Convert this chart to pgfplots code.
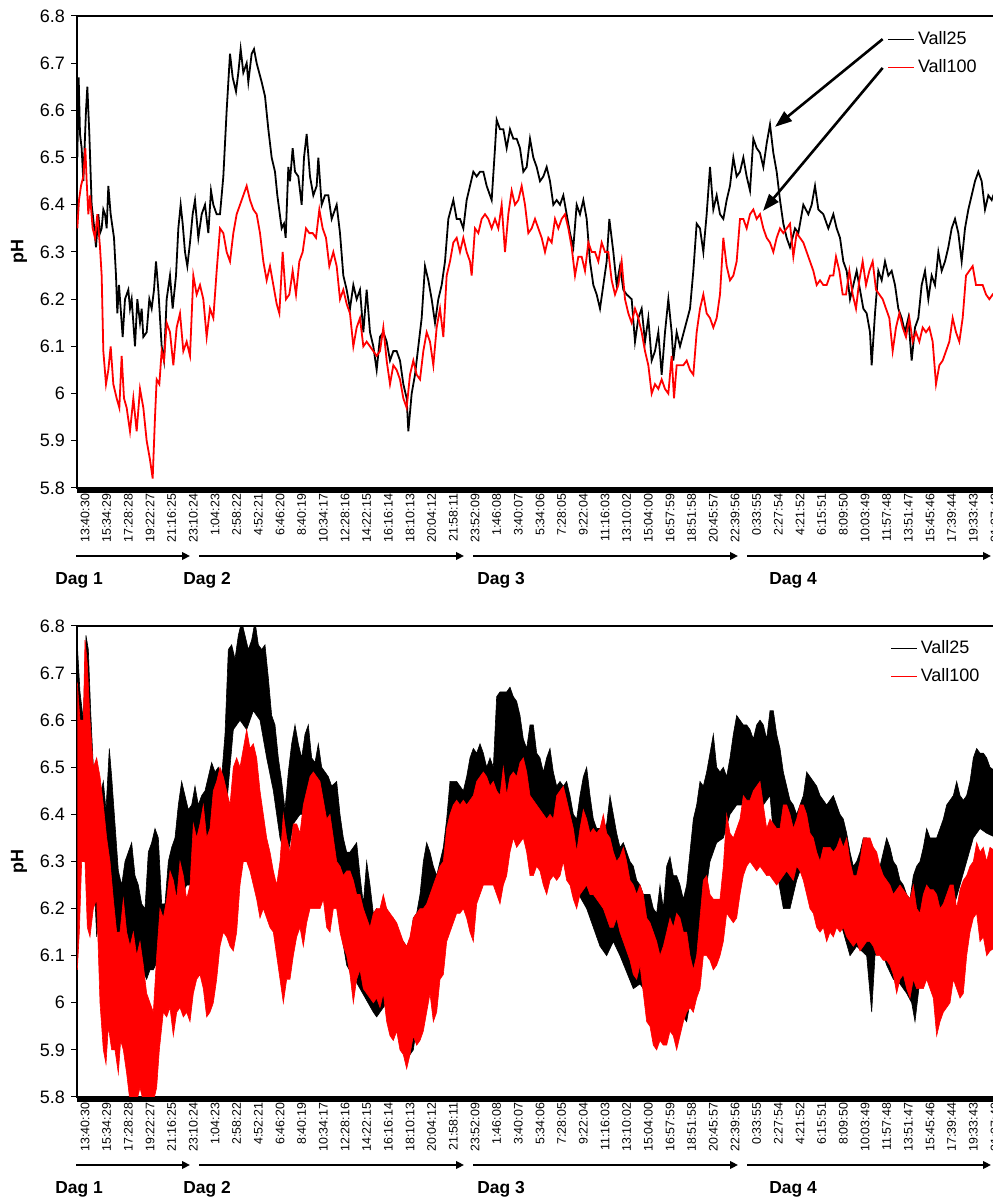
\documentclass[border=0pt]{standalone}
\usepackage{fontspec}
\setmainfont{Liberation Sans}
\usepackage{pgfplots}
\pgfplotsset{compat=1.18}
\usepackage{pgfplotstable}
\usetikzlibrary{arrows.meta}

% bottom chart: upper and lower envelopes of the fast-oscillating signals
\pgfplotstableread[row sep=\\]{G pH\\
232 6.76\\ 240 6.66\\ 250 6.60\\ 258 6.78\\ 265 6.75\\ 272 6.62\\ 280 6.50\\ 290 6.47\\ 300 6.44\\ 310 6.47\\
318 6.41\\ 328 6.54\\ 335 6.48\\ 345 6.38\\ 355 6.28\\ 365 6.25\\ 375 6.30\\ 385 6.32\\ 395 6.34\\ 405 6.27\\
415 6.25\\ 425 6.21\\ 435 6.20\\ 445 6.32\\ 455 6.34\\ 465 6.37\\ 475 6.35\\ 485 6.21\\ 495 6.21\\ 505 6.30\\
515 6.33\\ 525 6.35\\ 535 6.42\\ 545 6.47\\ 555 6.44\\ 565 6.41\\ 575 6.42\\ 585 6.46\\ 595 6.42\\ 605 6.44\\
615 6.45\\ 625 6.48\\ 635 6.51\\ 645 6.49\\ 655 6.50\\ 665 6.48\\ 675 6.57\\ 685 6.75\\ 695 6.76\\ 705 6.73\\
715 6.78\\ 725 6.81\\ 735 6.78\\ 745 6.75\\ 755 6.77\\ 765 6.81\\ 775 6.76\\ 785 6.75\\ 795 6.76\\ 805 6.69\\
815 6.61\\ 825 6.59\\ 835 6.52\\ 845 6.47\\ 855 6.41\\ 865 6.49\\ 875 6.55\\ 885 6.59\\ 895 6.55\\ 905 6.52\\
915 6.57\\ 925 6.59\\ 935 6.52\\ 945 6.51\\ 955 6.55\\ 965 6.50\\ 975 6.49\\ 985 6.48\\ 995 6.46\\ 1010 6.47\\
1020 6.40\\ 1030 6.35\\ 1040 6.32\\ 1050 6.32\\ 1060 6.33\\ 1070 6.34\\ 1080 6.27\\ 1090 6.21\\ 1100 6.30\\ 1110 6.25\\
1120 6.19\\ 1130 6.20\\ 1140 6.19\\ 1150 6.20\\ 1160 6.20\\ 1170 6.18\\ 1180 6.18\\ 1190 6.15\\ 1200 6.14\\ 1210 6.13\\
1220 6.12\\ 1230 6.13\\ 1240 6.18\\ 1250 6.19\\ 1260 6.23\\ 1270 6.30\\ 1280 6.34\\ 1290 6.32\\ 1300 6.29\\ 1310 6.27\\
1320 6.30\\ 1330 6.33\\ 1340 6.39\\ 1350 6.47\\ 1360 6.47\\ 1370 6.47\\ 1380 6.46\\ 1390 6.45\\ 1400 6.48\\ 1410 6.52\\
1420 6.54\\ 1430 6.53\\ 1440 6.55\\ 1450 6.53\\ 1460 6.50\\ 1470 6.52\\ 1480 6.50\\ 1490 6.65\\ 1500 6.66\\ 1510 6.66\\
1520 6.66\\ 1530 6.67\\ 1540 6.65\\ 1550 6.64\\ 1560 6.61\\ 1570 6.56\\ 1580 6.54\\ 1590 6.59\\ 1600 6.59\\ 1610 6.53\\
1620 6.52\\ 1630 6.49\\ 1640 6.52\\ 1650 6.54\\ 1660 6.49\\ 1670 6.46\\ 1680 6.47\\ 1690 6.46\\ 1700 6.47\\ 1710 6.44\\
1720 6.40\\ 1730 6.39\\ 1740 6.44\\ 1750 6.48\\ 1760 6.50\\ 1770 6.44\\ 1780 6.39\\ 1790 6.37\\ 1800 6.37\\ 1810 6.37\\
1820 6.38\\ 1830 6.44\\ 1840 6.40\\ 1850 6.36\\ 1860 6.33\\ 1870 6.34\\ 1880 6.32\\ 1890 6.30\\ 1900 6.29\\ 1910 6.26\\
1920 6.25\\ 1930 6.23\\ 1940 6.23\\ 1950 6.23\\ 1960 6.20\\ 1970 6.19\\ 1980 6.25\\ 1990 6.20\\ 2000 6.29\\ 2010 6.31\\
2020 6.27\\ 2030 6.27\\ 2040 6.25\\ 2050 6.22\\ 2060 6.25\\ 2070 6.32\\ 2080 6.39\\ 2090 6.42\\ 2100 6.47\\ 2110 6.46\\
2120 6.49\\ 2130 6.53\\ 2140 6.57\\ 2150 6.50\\ 2160 6.49\\ 2170 6.50\\ 2180 6.48\\ 2190 6.52\\ 2200 6.57\\ 2210 6.61\\
2220 6.60\\ 2230 6.59\\ 2240 6.59\\ 2250 6.58\\ 2260 6.56\\ 2270 6.59\\ 2280 6.60\\ 2290 6.59\\ 2300 6.56\\ 2310 6.62\\
2320 6.62\\ 2330 6.57\\ 2340 6.54\\ 2350 6.49\\ 2360 6.46\\ 2370 6.43\\ 2380 6.42\\ 2390 6.40\\ 2400 6.42\\ 2410 6.44\\
2420 6.49\\ 2430 6.48\\ 2440 6.47\\ 2450 6.46\\ 2460 6.44\\ 2470 6.43\\ 2480 6.42\\ 2490 6.43\\ 2500 6.44\\ 2510 6.42\\
2520 6.40\\ 2530 6.39\\ 2540 6.36\\ 2550 6.32\\ 2560 6.29\\ 2570 6.30\\ 2580 6.32\\ 2590 6.35\\ 2600 6.35\\ 2610 6.33\\
2620 6.32\\ 2630 6.30\\ 2640 6.29\\ 2650 6.32\\ 2660 6.35\\ 2670 6.33\\ 2680 6.30\\ 2690 6.29\\ 2700 6.26\\ 2710 6.25\\
2720 6.23\\ 2730 6.22\\ 2740 6.27\\ 2750 6.29\\ 2760 6.30\\ 2770 6.33\\ 2780 6.37\\ 2790 6.35\\ 2800 6.35\\ 2810 6.35\\
2820 6.37\\ 2830 6.39\\ 2840 6.42\\ 2850 6.43\\ 2860 6.44\\ 2870 6.47\\ 2880 6.44\\ 2890 6.43\\ 2900 6.44\\ 2910 6.47\\
2920 6.52\\ 2930 6.54\\ 2940 6.53\\ 2950 6.53\\ 2960 6.52\\ 2970 6.50\\ 2990 6.49\\
}\bhi
\pgfplotstableread[row sep=\\]{G pH\\
232 6.45\\ 245 6.50\\ 260 6.50\\ 270 6.40\\ 280 6.30\\ 290 6.14\\ 300 6.20\\ 320 6.25\\ 340 6.15\\ 360 6.10\\
380 6.08\\ 400 6.05\\ 420 6.08\\ 440 6.05\\ 450 6.07\\ 460 6.07\\ 480 6.10\\ 500 6.15\\ 520 6.18\\ 540 6.22\\
560 6.25\\ 580 6.25\\ 600 6.27\\ 620 6.28\\ 640 6.30\\ 660 6.32\\ 680 6.42\\ 700 6.58\\ 720 6.60\\ 740 6.58\\
760 6.62\\ 780 6.60\\ 800 6.52\\ 820 6.45\\ 840 6.35\\ 860 6.30\\ 880 6.38\\ 900 6.40\\ 920 6.40\\ 940 6.38\\
960 6.30\\ 1000 6.25\\ 1040 6.08\\ 1080 6.03\\ 1120 5.98\\ 1130 5.97\\ 1160 6.00\\ 1200 5.95\\ 1220 5.88\\ 1240 5.90\\
1260 6.00\\ 1280 6.10\\ 1300 6.12\\ 1320 6.10\\ 1340 6.18\\ 1360 6.28\\ 1400 6.30\\ 1440 6.32\\ 1480 6.35\\ 1520 6.42\\
1560 6.45\\ 1600 6.40\\ 1640 6.38\\ 1680 6.33\\ 1720 6.25\\ 1760 6.20\\ 1800 6.12\\ 1810 6.11\\ 1820 6.10\\ 1840 6.13\\
1860 6.10\\ 1900 6.03\\ 1920 6.04\\ 1960 6.00\\ 2000 6.00\\ 2040 5.98\\ 2060 5.96\\ 2070 6.00\\ 2090 6.10\\ 2110 6.20\\
2130 6.30\\ 2150 6.34\\ 2170 6.35\\ 2190 6.40\\ 2210 6.42\\ 2230 6.42\\ 2250 6.42\\ 2270 6.42\\ 2290 6.42\\ 2310 6.44\\
2330 6.28\\ 2350 6.20\\ 2370 6.20\\ 2390 6.26\\ 2410 6.30\\ 2430 6.30\\ 2450 6.28\\ 2470 6.25\\ 2490 6.25\\ 2510 6.20\\
2530 6.15\\ 2550 6.10\\ 2570 6.12\\ 2600 6.10\\ 2615 5.98\\ 2625 6.10\\ 2640 6.12\\ 2660 6.08\\ 2680 6.05\\ 2700 6.04\\
2720 6.02\\ 2735 6.00\\ 2745 5.96\\ 2760 6.05\\ 2780 6.10\\ 2800 6.13\\ 2820 6.13\\ 2840 6.15\\ 2860 6.20\\ 2880 6.25\\
2900 6.30\\ 2920 6.35\\ 2940 6.37\\ 2960 6.36\\ 2990 6.35\\
}\blo
\pgfplotstableread[row sep=\\]{G pH\\
232 6.68\\ 240 6.60\\ 250 6.60\\ 255 6.77\\ 262 6.72\\ 270 6.60\\ 280 6.50\\ 290 6.52\\ 300 6.48\\ 310 6.42\\
320 6.35\\ 330 6.30\\ 340 6.22\\ 350 6.15\\ 360 6.15\\ 370 6.22\\ 380 6.15\\ 390 6.12\\ 400 6.15\\ 410 6.10\\
420 6.13\\ 430 6.08\\ 440 6.02\\ 450 6.00\\ 460 5.98\\ 470 6.10\\ 480 6.20\\ 490 6.18\\ 500 6.22\\ 510 6.28\\
520 6.26\\ 530 6.22\\ 540 6.30\\ 550 6.27\\ 560 6.22\\ 570 6.25\\ 580 6.38\\ 590 6.35\\ 600 6.38\\ 610 6.42\\
620 6.35\\ 630 6.37\\ 640 6.45\\ 650 6.47\\ 660 6.50\\ 670 6.48\\ 680 6.45\\ 690 6.42\\ 700 6.50\\ 710 6.52\\
720 6.50\\ 730 6.54\\ 740 6.58\\ 750 6.54\\ 760 6.55\\ 770 6.52\\ 780 6.45\\ 790 6.40\\ 800 6.35\\ 810 6.32\\
820 6.28\\ 830 6.25\\ 840 6.30\\ 850 6.40\\ 860 6.35\\ 870 6.32\\ 880 6.38\\ 890 6.38\\ 900 6.36\\ 910 6.42\\
920 6.45\\ 930 6.48\\ 940 6.49\\ 950 6.48\\ 960 6.47\\ 970 6.43\\ 980 6.39\\ 990 6.40\\ 1000 6.35\\ 1010 6.30\\
1020 6.29\\ 1030 6.27\\ 1040 6.28\\ 1050 6.28\\ 1060 6.26\\ 1070 6.23\\ 1080 6.23\\ 1090 6.20\\ 1100 6.18\\ 1110 6.16\\
1120 6.19\\ 1130 6.20\\ 1140 6.20\\ 1150 6.23\\ 1160 6.20\\ 1170 6.19\\ 1180 6.18\\ 1190 6.17\\ 1200 6.15\\ 1210 6.13\\
1220 6.12\\ 1230 6.14\\ 1240 6.18\\ 1250 6.19\\ 1260 6.20\\ 1270 6.20\\ 1280 6.21\\ 1290 6.23\\ 1300 6.25\\ 1310 6.27\\
1320 6.29\\ 1330 6.30\\ 1340 6.37\\ 1350 6.40\\ 1360 6.42\\ 1370 6.43\\ 1380 6.42\\ 1390 6.43\\ 1400 6.42\\ 1410 6.43\\
1420 6.44\\ 1430 6.47\\ 1440 6.48\\ 1450 6.49\\ 1460 6.48\\ 1470 6.46\\ 1480 6.47\\ 1490 6.45\\ 1500 6.44\\ 1510 6.50\\
1520 6.44\\ 1530 6.48\\ 1540 6.49\\ 1550 6.48\\ 1560 6.51\\ 1570 6.52\\ 1580 6.49\\ 1590 6.44\\ 1600 6.43\\ 1610 6.42\\
1620 6.41\\ 1630 6.40\\ 1640 6.39\\ 1650 6.40\\ 1660 6.39\\ 1670 6.44\\ 1680 6.45\\ 1690 6.46\\ 1700 6.43\\ 1710 6.40\\
1720 6.37\\ 1730 6.32\\ 1740 6.37\\ 1750 6.41\\ 1760 6.39\\ 1770 6.36\\ 1780 6.37\\ 1790 6.36\\ 1800 6.37\\ 1810 6.40\\
1820 6.36\\ 1830 6.35\\ 1840 6.32\\ 1850 6.30\\ 1860 6.31\\ 1870 6.33\\ 1880 6.30\\ 1890 6.26\\ 1900 6.25\\ 1910 6.23\\
1920 6.25\\ 1930 6.23\\ 1940 6.18\\ 1950 6.17\\ 1960 6.15\\ 1970 6.13\\ 1980 6.10\\ 1990 6.12\\ 2000 6.15\\ 2010 6.18\\
2020 6.16\\ 2030 6.19\\ 2040 6.18\\ 2050 6.15\\ 2060 6.15\\ 2070 6.10\\ 2080 6.07\\ 2090 6.10\\ 2100 6.18\\ 2110 6.26\\
2120 6.27\\ 2130 6.23\\ 2140 6.22\\ 2150 6.22\\ 2160 6.22\\ 2170 6.29\\ 2180 6.40\\ 2190 6.36\\ 2200 6.35\\ 2210 6.37\\
2220 6.39\\ 2230 6.44\\ 2240 6.43\\ 2250 6.43\\ 2260 6.45\\ 2270 6.46\\ 2280 6.47\\ 2290 6.42\\ 2300 6.37\\ 2310 6.39\\
2320 6.38\\ 2330 6.37\\ 2340 6.37\\ 2350 6.42\\ 2360 6.42\\ 2370 6.40\\ 2380 6.37\\ 2390 6.39\\ 2400 6.42\\ 2410 6.42\\
2420 6.40\\ 2430 6.36\\ 2440 6.35\\ 2450 6.32\\ 2460 6.30\\ 2470 6.33\\ 2480 6.33\\ 2490 6.33\\ 2500 6.32\\ 2510 6.33\\
2520 6.35\\ 2530 6.33\\ 2540 6.35\\ 2550 6.30\\ 2560 6.27\\ 2570 6.27\\ 2580 6.30\\ 2590 6.35\\ 2600 6.35\\ 2610 6.35\\
2620 6.33\\ 2630 6.32\\ 2640 6.29\\ 2650 6.27\\ 2660 6.26\\ 2670 6.25\\ 2680 6.23\\ 2690 6.24\\ 2700 6.25\\ 2710 6.24\\
2720 6.23\\ 2730 6.22\\ 2740 6.25\\ 2750 6.20\\ 2760 6.19\\ 2770 6.23\\ 2780 6.25\\ 2790 6.24\\ 2800 6.24\\ 2810 6.23\\
2820 6.20\\ 2830 6.21\\ 2840 6.23\\ 2850 6.25\\ 2860 6.25\\ 2870 6.20\\ 2880 6.24\\ 2890 6.26\\ 2900 6.27\\ 2910 6.29\\
2920 6.30\\ 2930 6.34\\ 2940 6.32\\ 2950 6.33\\ 2960 6.30\\ 2970 6.33\\ 2990 6.32\\
}\rhi
\pgfplotstableread[row sep=\\]{G pH\\
232 6.07\\ 238 6.15\\ 245 6.30\\ 255 6.30\\ 262 6.16\\ 270 6.14\\ 280 6.20\\ 290 6.22\\ 300 6.00\\ 310 5.90\\
318 5.87\\ 325 5.95\\ 335 5.90\\ 345 5.90\\ 355 5.85\\ 362 5.92\\ 370 5.90\\ 380 5.85\\ 390 5.79\\ 400 5.79\\
410 5.79\\ 420 5.82\\ 430 5.79\\ 440 5.79\\ 450 5.79\\ 460 5.79\\ 470 5.82\\ 478 5.90\\ 490 5.98\\ 500 5.97\\
510 5.99\\ 520 5.93\\ 530 5.98\\ 540 5.99\\ 550 5.97\\ 560 5.98\\ 570 5.96\\ 580 6.02\\ 590 6.05\\ 600 6.06\\
610 6.03\\ 620 5.97\\ 630 5.98\\ 640 6.00\\ 650 6.05\\ 660 6.12\\ 670 6.15\\ 680 6.14\\ 690 6.12\\ 700 6.11\\
710 6.15\\ 720 6.25\\ 730 6.30\\ 740 6.30\\ 750 6.28\\ 760 6.25\\ 770 6.22\\ 780 6.18\\ 790 6.20\\ 800 6.18\\
810 6.16\\ 820 6.15\\ 830 6.10\\ 840 6.05\\ 850 6.00\\ 860 6.05\\ 870 6.05\\ 880 6.10\\ 890 6.14\\ 900 6.16\\
910 6.12\\ 920 6.17\\ 930 6.20\\ 940 6.20\\ 950 6.20\\ 960 6.20\\ 970 6.22\\ 980 6.16\\ 990 6.15\\ 1000 6.20\\
1010 6.20\\ 1020 6.15\\ 1030 6.12\\ 1040 6.10\\ 1050 6.06\\ 1060 6.00\\ 1070 6.05\\ 1080 6.07\\ 1090 6.03\\ 1100 6.02\\
1110 6.01\\ 1120 6.00\\ 1130 6.01\\ 1140 5.99\\ 1150 6.02\\ 1160 5.96\\ 1170 5.93\\ 1180 5.92\\ 1190 5.94\\ 1200 5.90\\
1210 5.89\\ 1220 5.86\\ 1230 5.89\\ 1240 5.93\\ 1250 5.91\\ 1260 5.92\\ 1270 5.94\\ 1280 5.98\\ 1290 6.02\\ 1300 5.96\\
1310 5.98\\ 1320 6.05\\ 1330 6.06\\ 1340 6.13\\ 1350 6.15\\ 1360 6.17\\ 1370 6.19\\ 1380 6.19\\ 1390 6.20\\ 1400 6.18\\
1410 6.15\\ 1420 6.13\\ 1430 6.21\\ 1440 6.23\\ 1450 6.25\\ 1460 6.25\\ 1470 6.25\\ 1480 6.25\\ 1490 6.23\\ 1500 6.21\\
1510 6.25\\ 1520 6.27\\ 1530 6.32\\ 1540 6.35\\ 1550 6.33\\ 1560 6.34\\ 1570 6.35\\ 1580 6.32\\ 1590 6.27\\ 1600 6.27\\
1610 6.29\\ 1620 6.28\\ 1630 6.25\\ 1640 6.23\\ 1650 6.26\\ 1660 6.27\\ 1670 6.26\\ 1680 6.27\\ 1690 6.30\\ 1700 6.26\\
1710 6.25\\ 1720 6.22\\ 1730 6.20\\ 1740 6.23\\ 1750 6.24\\ 1760 6.25\\ 1770 6.23\\ 1780 6.23\\ 1790 6.22\\ 1800 6.21\\
1810 6.20\\ 1820 6.18\\ 1830 6.16\\ 1840 6.16\\ 1850 6.18\\ 1860 6.15\\ 1870 6.13\\ 1880 6.11\\ 1890 6.09\\ 1900 6.06\\
1910 6.05\\ 1920 6.08\\ 1930 6.02\\ 1940 5.96\\ 1950 5.95\\ 1960 5.91\\ 1970 5.90\\ 1980 5.92\\ 1990 5.91\\ 2000 5.91\\
2010 5.94\\ 2020 5.93\\ 2030 5.90\\ 2040 5.93\\ 2050 5.96\\ 2060 5.98\\ 2070 5.99\\ 2080 5.98\\ 2090 6.01\\ 2100 6.03\\
2110 6.10\\ 2120 6.10\\ 2130 6.09\\ 2140 6.07\\ 2150 6.08\\ 2160 6.10\\ 2170 6.13\\ 2180 6.19\\ 2190 6.18\\ 2200 6.17\\
2210 6.18\\ 2220 6.23\\ 2230 6.27\\ 2240 6.29\\ 2250 6.30\\ 2260 6.29\\ 2270 6.28\\ 2280 6.29\\ 2290 6.28\\ 2300 6.27\\
2310 6.27\\ 2320 6.26\\ 2330 6.25\\ 2340 6.26\\ 2350 6.27\\ 2360 6.28\\ 2370 6.27\\ 2380 6.26\\ 2390 6.29\\ 2400 6.28\\
2410 6.26\\ 2420 6.23\\ 2430 6.20\\ 2440 6.19\\ 2450 6.16\\ 2460 6.15\\ 2470 6.16\\ 2480 6.13\\ 2490 6.15\\ 2500 6.14\\
2510 6.16\\ 2520 6.15\\ 2530 6.16\\ 2540 6.14\\ 2550 6.13\\ 2560 6.12\\ 2570 6.13\\ 2580 6.11\\ 2590 6.12\\ 2600 6.13\\
2610 6.13\\ 2620 6.12\\ 2630 6.10\\ 2640 6.10\\ 2650 6.09\\ 2660 6.09\\ 2670 6.08\\ 2680 6.06\\ 2690 6.02\\ 2700 6.05\\
2710 6.06\\ 2720 6.03\\ 2730 6.01\\ 2740 6.05\\ 2750 6.03\\ 2760 6.03\\ 2770 6.03\\ 2780 6.05\\ 2790 6.03\\ 2800 6.01\\
2810 5.93\\ 2820 5.96\\ 2830 5.98\\ 2840 5.99\\ 2850 6.00\\ 2860 6.05\\ 2870 6.03\\ 2880 6.01\\ 2890 6.02\\ 2900 6.10\\
2910 6.15\\ 2920 6.18\\ 2930 6.19\\ 2940 6.13\\ 2950 6.14\\ 2960 6.10\\ 2970 6.11\\ 2990 6.12\\
}\rlo
% closed outlines: upper envelope forward, lower envelope backward
\pgfplotstablesort[sort key=G, sort cmp=float >]{\bloRev}{\blo}
\pgfplotstablesort[sort key=G, sort cmp=float >]{\rloRev}{\rlo}
\pgfplotstablevertcat{\bhi}{\bloRev}
\pgfplotstablevertcat{\rhi}{\rloRev}

\pgfplotsset{
  phaxis/.style={
    scale only axis, width=459.83pt, anchor=south west,
    xmin=231, xmax=2990, ymin=5.8, ymax=6.8,
    axis line style={line width=0.6pt},
    xtick={231,296,...,2961},
    xticklabels={13:40:30,15:34:29,17:28:28,19:22:27,21:16:25,23:10:24,1:04:23,2:58:22,4:52:21,6:46:20,8:40:19,10:34:17,12:28:16,14:22:15,16:16:14,18:10:13,20:04:12,21:58:11,23:52:09,1:46:08,3:40:07,5:34:06,7:28:05,9:22:04,11:16:03,13:10:02,15:04:00,16:57:59,18:51:58,20:45:57,22:39:56,0:33:55,2:27:54,4:21:52,6:15:51,8:09:50,10:03:49,11:57:48,13:51:47,15:45:46,17:39:44,19:33:43,21:27:42},
    xtick style={draw=none},
    xticklabel style={rotate=90, anchor=east, font=\fontsize{6.2}{7}\selectfont, inner sep=0pt, yshift=-4pt},
    ytick={5.8,5.9,6,6.1,6.2,6.3,6.4,6.5,6.6,6.7,6.8},
    yticklabels={5.8,5.9,6,6.1,6.2,6.3,6.4,6.5,6.6,6.7,6.8},
    ytick pos=left, tick align=outside, major tick length=2.8pt,
    ytick style={line width=0.5pt, black},
    yticklabel style={font=\fontsize{9}{10}\selectfont, inner sep=1pt, xshift=-2pt},
    ylabel={pH},
    ylabel style={at={(axis description cs:-0.0631,0.5)}, anchor=center, font=\bfseries\fontsize{9}{10}\selectfont},
    legend style={draw=none, fill=none, anchor=north east, font=\fontsize{9}{10}\selectfont, row sep=3pt, inner sep=0pt, nodes={inner sep=1.5pt}},
    legend cell align=left,
    legend image code/.code={\draw[#1, line width=0.7pt] (0pt,0pt) -- (13pt,0pt);},
  }
}

\begin{document}
\begin{tikzpicture}
\useasboundingbox (0,0) rectangle (496pt,599.5pt);

% ---------------- top chart ----------------
\begin{axis}[phaxis, name=top, at={(38.5pt,355.5pt)}, height=236pt,
  legend style={at={(axis description cs:0.982,0.975)}}]
\addplot[black, line width=0.9pt] coordinates {
(232,6.50) (236,6.67) (240,6.55) (245,6.52) (250,6.45) (258,6.60) (262,6.65) (268,6.55) (275,6.40) (283,6.35)
(288,6.31) (295,6.38) (300,6.34) (305,6.35) (310,6.39) (315,6.38) (320,6.35) (325,6.44) (332,6.38) (342,6.33)
(348,6.25) (352,6.17) (357,6.23) (362,6.18) (368,6.12) (375,6.20) (385,6.22) (390,6.18) (395,6.20) (400,6.15)
(405,6.10) (412,6.20) (420,6.15) (425,6.18) (430,6.12) (440,6.13) (448,6.20) (455,6.18) (462,6.22) (468,6.28)
(475,6.22) (485,6.10) (492,6.07) (500,6.20) (510,6.25) (518,6.18) (528,6.25) (535,6.35) (542,6.40) (548,6.36)
(555,6.30) (562,6.27) (570,6.32) (578,6.38) (585,6.41) (595,6.33) (605,6.38) (615,6.40) (625,6.34) (633,6.43)
(640,6.40) (650,6.38) (660,6.38) (670,6.46) (680,6.60) (690,6.72) (698,6.67) (708,6.64) (715,6.68) (722,6.73)
(730,6.68) (740,6.70) (745,6.66) (755,6.72) (762,6.73) (770,6.70) (785,6.66) (795,6.63) (805,6.56) (815,6.50)
(825,6.47) (832,6.42) (845,6.35) (852,6.36) (857,6.33) (865,6.48) (870,6.45) (878,6.52) (885,6.47) (895,6.46)
(905,6.40) (912,6.50) (920,6.55) (930,6.46) (940,6.42) (950,6.44) (955,6.50) (965,6.40) (975,6.42) (985,6.42)
(995,6.37) (1010,6.40) (1020,6.34) (1030,6.25) (1040,6.22) (1050,6.18) (1060,6.23) (1070,6.20) (1080,6.22) (1090,6.13)
(1100,6.22) (1110,6.13) (1120,6.10) (1130,6.05) (1140,6.12) (1150,6.13) (1160,6.11) (1170,6.07) (1180,6.09) (1190,6.09)
(1200,6.07) (1210,6.02) (1220,5.99) (1225,5.92) (1235,6.00) (1245,6.04) (1255,6.10) (1265,6.16) (1275,6.27) (1285,6.24)
(1295,6.20) (1305,6.15) (1315,6.20) (1325,6.23) (1335,6.28) (1345,6.37) (1360,6.41) (1370,6.37) (1380,6.37) (1390,6.35)
(1400,6.41) (1410,6.44) (1420,6.47) (1430,6.46) (1440,6.47) (1450,6.47) (1460,6.44) (1475,6.41) (1485,6.52) (1490,6.58)
(1500,6.56) (1510,6.56) (1520,6.52) (1530,6.56) (1540,6.54) (1550,6.54) (1560,6.52) (1570,6.47) (1580,6.48) (1590,6.54)
(1600,6.50) (1610,6.48) (1620,6.45) (1630,6.46) (1640,6.48) (1650,6.45) (1660,6.40) (1670,6.41) (1680,6.40) (1690,6.42)
(1700,6.38) (1710,6.34) (1720,6.31) (1730,6.40) (1740,6.38) (1750,6.41) (1760,6.37) (1770,6.28) (1780,6.23) (1790,6.21)
(1800,6.18) (1810,6.23) (1820,6.28) (1828,6.37) (1840,6.30) (1850,6.23) (1860,6.27) (1870,6.22) (1880,6.21) (1895,6.20)
(1905,6.11) (1915,6.16) (1925,6.18) (1935,6.11) (1945,6.16) (1955,6.07) (1965,6.09) (1975,6.13) (1985,6.04) (1995,6.13)
(2005,6.20) (2015,6.13) (2020,6.07) (2030,6.13) (2040,6.10) (2055,6.14) (2070,6.18) (2080,6.26) (2090,6.36) (2100,6.35)
(2110,6.30) (2120,6.38) (2130,6.48) (2140,6.39) (2150,6.42) (2160,6.38) (2170,6.37) (2180,6.41) (2190,6.44) (2200,6.50)
(2210,6.46) (2220,6.47) (2230,6.50) (2240,6.46) (2250,6.43) (2260,6.54) (2270,6.52) (2280,6.51) (2290,6.48) (2300,6.53)
(2310,6.57) (2320,6.51) (2330,6.47) (2340,6.41) (2350,6.36) (2360,6.33) (2370,6.31) (2385,6.35) (2395,6.34) (2410,6.40)
(2425,6.38) (2435,6.40) (2445,6.44) (2455,6.39) (2470,6.38) (2485,6.35) (2500,6.38) (2510,6.35) (2520,6.33) (2530,6.28)
(2540,6.26) (2550,6.20) (2560,6.23) (2570,6.26) (2580,6.22) (2590,6.18) (2600,6.17) (2610,6.13) (2615,6.06) (2625,6.17)
(2635,6.26) (2645,6.24) (2655,6.28) (2665,6.25) (2675,6.26) (2685,6.23) (2695,6.18) (2705,6.16) (2715,6.13) (2725,6.16)
(2735,6.07) (2745,6.14) (2755,6.16) (2765,6.23) (2775,6.26) (2785,6.20) (2795,6.25) (2805,6.23) (2815,6.30) (2825,6.26)
(2835,6.28) (2845,6.31) (2855,6.35) (2865,6.37) (2875,6.34) (2885,6.28) (2895,6.35) (2905,6.39) (2915,6.42) (2925,6.45)
(2935,6.47) (2945,6.45) (2955,6.39) (2965,6.42) (2975,6.41) (2985,6.43)
};
\addlegendentry{Vall25}
\addplot[red, line width=0.9pt] coordinates {
(232,6.35) (237,6.41) (243,6.44) (250,6.46) (256,6.52) (260,6.45) (265,6.38) (270,6.42) (278,6.35) (285,6.33)
(292,6.38) (300,6.31) (305,6.25) (310,6.09) (318,6.02) (325,6.05) (332,6.10) (340,6.02) (350,5.99) (358,5.97)
(365,6.08) (372,5.99) (380,5.97) (390,5.92) (400,5.99) (410,5.92) (420,6.01) (430,5.97) (440,5.90) (450,5.86)
(458,5.82) (465,5.95) (470,6.03) (478,6.02) (485,6.09) (492,6.07) (500,6.15) (510,6.13) (520,6.06) (530,6.14)
(540,6.17) (550,6.09) (560,6.11) (570,6.08) (580,6.25) (590,6.21) (600,6.23) (610,6.20) (620,6.12) (630,6.18)
(640,6.16) (650,6.26) (660,6.35) (670,6.34) (680,6.30) (690,6.28) (700,6.34) (710,6.38) (720,6.40) (730,6.42)
(740,6.44) (750,6.41) (760,6.39) (770,6.38) (780,6.34) (790,6.28) (800,6.24) (810,6.27) (820,6.23) (830,6.19)
(838,6.17) (848,6.30) (858,6.20) (868,6.21) (878,6.26) (888,6.21) (898,6.28) (908,6.30) (918,6.35) (928,6.34)
(938,6.34) (948,6.33) (958,6.39) (968,6.35) (978,6.33) (988,6.27) (1000,6.30) (1010,6.27) (1020,6.20) (1030,6.22)
(1040,6.19) (1050,6.17) (1060,6.10) (1070,6.14) (1080,6.16) (1090,6.10) (1100,6.11) (1110,6.10) (1120,6.09) (1130,6.08)
(1140,6.09) (1150,6.14) (1160,6.07) (1170,6.02) (1180,6.06) (1190,6.05) (1200,6.03) (1210,5.99) (1220,5.97) (1230,6.04)
(1240,6.07) (1250,6.04) (1260,6.03) (1270,6.09) (1280,6.13) (1290,6.11) (1300,6.06) (1310,6.14) (1320,6.18) (1330,6.12)
(1340,6.25) (1350,6.28) (1360,6.32) (1370,6.33) (1380,6.30) (1390,6.33) (1400,6.30) (1410,6.28) (1415,6.25) (1425,6.35)
(1435,6.34) (1445,6.37) (1455,6.38) (1465,6.37) (1475,6.35) (1485,6.37) (1495,6.35) (1505,6.40) (1515,6.30) (1525,6.38)
(1535,6.43) (1545,6.40) (1555,6.41) (1565,6.44) (1575,6.40) (1585,6.34) (1595,6.35) (1605,6.37) (1615,6.35) (1625,6.33)
(1635,6.30) (1645,6.33) (1655,6.32) (1665,6.37) (1675,6.35) (1685,6.37) (1695,6.38) (1705,6.35) (1715,6.31) (1725,6.25)
(1735,6.29) (1745,6.29) (1755,6.26) (1765,6.32) (1775,6.30) (1785,6.30) (1795,6.28) (1805,6.32) (1815,6.30) (1825,6.30)
(1835,6.24) (1845,6.21) (1855,6.23) (1865,6.28) (1875,6.20) (1885,6.17) (1895,6.15) (1905,6.18) (1915,6.16) (1925,6.13)
(1935,6.09) (1945,6.06) (1955,6.00) (1965,6.02) (1975,6.01) (1985,6.03) (1995,6.01) (2005,6.00) (2015,6.08) (2022,5.99)
(2030,6.06) (2040,6.06) (2050,6.06) (2060,6.07) (2070,6.05) (2080,6.04) (2090,6.13) (2100,6.18) (2110,6.21) (2120,6.17)
(2130,6.16) (2140,6.14) (2150,6.16) (2160,6.21) (2170,6.33) (2180,6.27) (2190,6.24) (2200,6.25) (2210,6.28) (2220,6.37)
(2230,6.37) (2240,6.35) (2250,6.38) (2260,6.39) (2270,6.37) (2280,6.38) (2290,6.35) (2300,6.33) (2310,6.32) (2320,6.30)
(2330,6.33) (2340,6.35) (2350,6.34) (2360,6.35) (2370,6.36) (2380,6.29) (2390,6.34) (2400,6.33) (2410,6.32) (2420,6.30)
(2430,6.28) (2440,6.26) (2450,6.23) (2460,6.24) (2470,6.23) (2480,6.23) (2490,6.25) (2500,6.25) (2508,6.29) (2518,6.26)
(2528,6.21) (2538,6.21) (2548,6.26) (2558,6.21) (2568,6.18) (2578,6.24) (2588,6.28) (2598,6.23) (2608,6.26) (2618,6.28)
(2628,6.22) (2638,6.21) (2648,6.20) (2658,6.18) (2668,6.16) (2678,6.09) (2688,6.14) (2698,6.17) (2708,6.14) (2718,6.12)
(2728,6.16) (2738,6.11) (2748,6.13) (2758,6.11) (2768,6.14) (2778,6.13) (2788,6.14) (2798,6.11) (2808,6.02) (2818,6.06)
(2828,6.07) (2838,6.09) (2848,6.11) (2858,6.16) (2868,6.13) (2878,6.11) (2888,6.16) (2898,6.25) (2908,6.26) (2918,6.27)
(2928,6.23) (2938,6.23) (2948,6.23) (2958,6.21) (2968,6.20) (2978,6.21) (2988,6.20)
};
\addlegendentry{Vall100}
\draw[line width=1.3pt, -{Triangle[length=8.5pt,width=6pt]}] (axis cs:2648,6.751) -- (axis cs:2325,6.565);
\draw[line width=1.3pt, -{Triangle[length=8.5pt,width=6pt]}] (axis cs:2648,6.690) -- (axis cs:2289,6.387);
\end{axis}
\fill[black] (top.south west) rectangle ([yshift=-2.5pt]top.south east);

% ---------------- bottom chart ----------------
\begin{axis}[phaxis, name=bot, at={(38.5pt,51pt)}, height=235.5pt,
  legend style={at={(axis description cs:0.985,0.977)}}]
\addlegendimage{black, line width=0.7pt}
\addlegendentry{Vall25}
\addlegendimage{red, line width=0.7pt}
\addlegendentry{Vall100}
\addplot[fill=black, draw=black, line width=0.3pt, forget plot] table[x=G, y=pH] {\bhi};
\addplot[fill=red, draw=red, line width=0.3pt, forget plot] table[x=G, y=pH] {\rhi};
\end{axis}
\fill[black] (bot.south west) rectangle ([yshift=-2.5pt]bot.south east);

% ---------------- day markers ----------------
\foreach \yA/\yT in {321.5pt/307pt, 17pt/2.5pt}{
  \draw[line width=1pt, -{Triangle[length=4pt,width=3.8pt]}] (38pt,\yA) -- (95pt,\yA);
  \draw[line width=1pt, -{Triangle[length=4pt,width=3.8pt]}] (99.5pt,\yA) -- (232pt,\yA);
  \draw[line width=1pt, -{Triangle[length=4pt,width=3.8pt]}] (236.5pt,\yA) -- (369pt,\yA);
  \draw[line width=1pt, -{Triangle[length=4pt,width=3.8pt]}] (373.5pt,\yA) -- (495.5pt,\yA);
  \node[anchor=base west, inner sep=0pt, font=\bfseries\fontsize{8.7}{10}\selectfont] at (27.5pt,\yT) {Dag 1};
  \node[anchor=base west, inner sep=0pt, font=\bfseries\fontsize{8.7}{10}\selectfont] at (91.5pt,\yT) {Dag 2};
  \node[anchor=base west, inner sep=0pt, font=\bfseries\fontsize{8.7}{10}\selectfont] at (238.5pt,\yT) {Dag 3};
  \node[anchor=base west, inner sep=0pt, font=\bfseries\fontsize{8.7}{10}\selectfont] at (384.5pt,\yT) {Dag 4};
}
\end{tikzpicture}
\end{document}
